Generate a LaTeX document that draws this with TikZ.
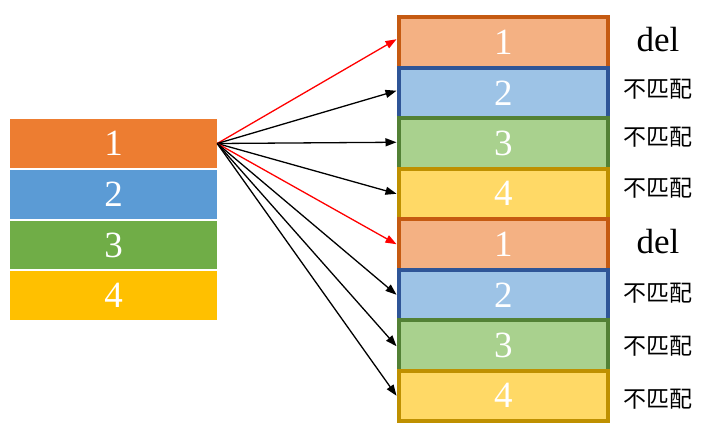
\documentclass[tikz,border=0pt]{standalone}
\usepackage{fontspec}
\setmainfont{Liberation Serif}
\newfontfamily\cjk{Noto Sans CJK SC}
\usetikzlibrary{arrows.meta}
\definecolor{cOr}{HTML}{ED7D31}
\definecolor{cBl}{HTML}{5B9BD5}
\definecolor{cGr}{HTML}{70AD47}
\definecolor{cYe}{HTML}{FFC000}
\definecolor{fOr}{HTML}{F4B183}
\definecolor{fBl}{HTML}{9DC3E6}
\definecolor{fGr}{HTML}{A9D18E}
\definecolor{fYe}{HTML}{FFD966}
\definecolor{dOr}{HTML}{C55A11}
\definecolor{dBl}{HTML}{2F5597}
\definecolor{dGr}{HTML}{538135}
\definecolor{dYe}{HTML}{BF9000}
\tikzset{
  lbox/.style={rectangle, inner sep=0pt, minimum width=207pt, minimum height=48.5pt, text=white, font=\fontsize{37}{37}\selectfont},
  rbox/.style={rectangle, inner sep=0pt, line width=4pt, minimum width=209.5pt, minimum height=50.5pt, text=white, font=\fontsize{37}{37}\selectfont},
  dellabel/.style={inner sep=0pt, font=\fontsize{35}{35}\selectfont},
  nolabel/.style={inner sep=0pt, font=\cjk\fontsize{23}{23}\selectfont},
  arr/.style={line width=1.3pt, -{Triangle[length=11pt,width=8pt]}},
}
\begin{document}
\begin{tikzpicture}[x=1pt,y=-1pt]
\useasboundingbox (0,0) rectangle (715,442);
% left stack
\node[lbox, fill=cOr] (l1) at (113.5,143.5) {1};
\node[lbox, fill=cBl] (l2) at (113.5,194.25) {2};
\node[lbox, fill=cGr] (l3) at (113.5,245) {3};
\node[lbox, fill=cYe] (l4) at (113.5,295.5) {4};
% right stack
\node[rbox, fill=fOr, draw=dOr] (r1) at (503.25,42.25) {1};
\node[rbox, fill=fBl, draw=dBl] (r2) at (503.25,92.75) {2};
\node[rbox, fill=fGr, draw=dGr] (r3) at (503.25,143.25) {3};
\node[rbox, fill=fYe, draw=dYe] (r4) at (503.25,193.75) {4};
\node[rbox, fill=fOr, draw=dOr] (r5) at (503.25,244.25) {1};
\node[rbox, fill=fBl, draw=dBl] (r6) at (503.25,294.75) {2};
\node[rbox, fill=fGr, draw=dGr] (r7) at (503.25,345.25) {3};
\node[rbox, fill=fYe, draw=dYe] (r8) at (503.25,395.75) {4};
% labels
\node[dellabel] (t1) at (658,40) {del};
\node[nolabel] (t2) at (657.5,89) {不匹配};
\node[nolabel] (t3) at (657.5,137) {不匹配};
\node[nolabel] (t4) at (657.5,188) {不匹配};
\node[dellabel] (t5) at (658,242) {del};
\node[nolabel] (t6) at (657.5,293) {不匹配};
\node[nolabel] (t7) at (657.5,346) {不匹配};
\node[nolabel] (t8) at (657.5,399) {不匹配};
% arrows
\coordinate (src) at (l1.east);
\draw[arr, red] (src) -- ([yshift=3pt]r1.west);
\draw[arr] (src) -- ([yshift=2pt]r2.west);
\draw[arr] (src) -- ([yshift=1pt]r3.west);
\draw[arr] (src) -- (r4.west);
\draw[arr, red] (src) -- (r5.west);
\draw[arr] (src) -- (r6.west);
\draw[arr] (src) -- ([yshift=-1pt]r7.west);
\draw[arr] (src) -- (r8.west);
\end{tikzpicture}
\end{document}
